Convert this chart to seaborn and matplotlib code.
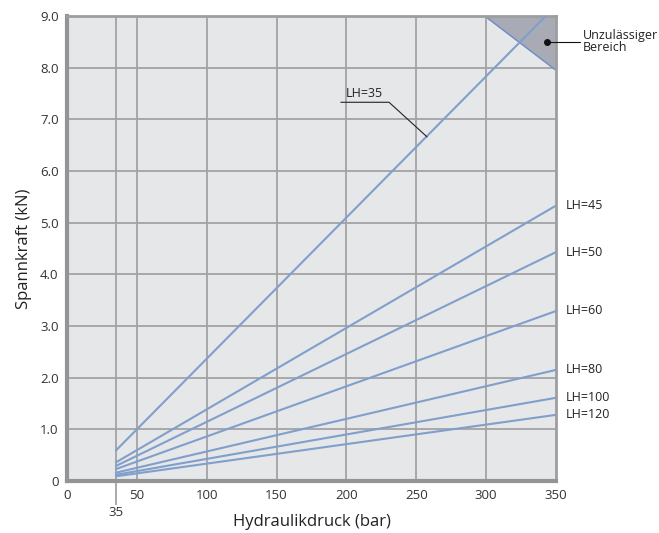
import matplotlib.pyplot as plt
import seaborn as sns
import pandas as pd

sns.set_style("white")
plt.rcParams["font.family"] = ["Open Sans", "DejaVu Sans"]

# Start/end points of each curve (Hydraulikdruck in bar, Spannkraft in kN)
lh_labels = ["LH=35", "LH=45", "LH=50", "LH=60", "LH=80", "LH=100", "LH=120"]
pressure_start = [35, 35, 35, 35, 35, 35, 35]
pressure_end = [350, 350, 350, 350, 350, 350, 350]
force_start = [0.59, 0.36, 0.29, 0.23, 0.16, 0.12, 0.09]
force_end = [9.2, 5.33, 4.43, 3.29, 2.15, 1.61, 1.28]

# forbidden region triangle
zone_x = [299, 350, 350]
zone_y = [9.0, 9.0, 7.95]

x_ticks = [0, 50, 100, 150, 200, 250, 300, 350]
y_ticks = [0, 1, 2, 3, 4, 5, 6, 7, 8, 9]
y_tick_labels = ["0", "1.0", "2.0", "3.0", "4.0", "5.0", "6.0", "7.0", "8.0", "9.0"]

rows = []
for lab, x0, x1, y0, y1 in zip(lh_labels, pressure_start, pressure_end, force_start, force_end):
    rows.append({"LH": lab, "p": x0, "F": y0})
    rows.append({"LH": lab, "p": x1, "F": y1})
df = pd.DataFrame(rows)

line_col = "#809fcb"
grid_col = "#a3a3a5"

fig = plt.figure(figsize=(6.59, 5.33), dpi=100)
ax = fig.add_axes([0.1017, 0.0976, 0.742, 0.8724])
ax.set_facecolor("#e6e7e9")

ax.fill(zone_x, zone_y, color="#a8abb6", zorder=1)
ax.plot([zone_x[0], zone_x[2]], [zone_y[0], zone_y[2]], color="#6f8fc4", lw=1, zorder=2)

sns.lineplot(data=df, x="p", y="F", units="LH", estimator=None, color=line_col,
             lw=1.5, ax=ax, zorder=3, legend=False)

ax.set_xlim(0, 350)
ax.set_ylim(0, 9)
ax.set_xticks(x_ticks)
ax.set_xticks([35], minor=True)
ax.set_xticklabels(x_ticks, minor=False)
ax.set_xticklabels(["35"], minor=True)
ax.set_yticks(y_ticks)
ax.set_yticklabels(y_tick_labels)
ax.tick_params(axis="both", which="major", length=0, labelsize=9.5, colors="#333333", pad=6)
ax.tick_params(axis="x", which="minor", bottom=True, length=17, width=1.3, color=grid_col,
               labelsize=9.5, labelcolor="#333333", pad=1)

for v in [35, 50, 100, 150, 200, 250, 300]:
    ax.axvline(v, color=grid_col, lw=1.3, zorder=0.5)
for v in range(1, 9):
    ax.axhline(v, color=grid_col, lw=1.3, zorder=0.5)

for side in ["top", "right"]:
    ax.spines[side].set_color("#9d9ea0")
    ax.spines[side].set_linewidth(2)
for side in ["left", "bottom"]:
    ax.spines[side].set_color("#939496")
    ax.spines[side].set_linewidth(3)

ax.set_xlabel("Hydraulikdruck (bar)", fontsize=12, color="#222222")
ax.xaxis.set_label_coords(0.5, -0.07)
ax.set_ylabel("Spannkraft (kN)", fontsize=12, color="#222222", labelpad=6)

# right-hand labels
for lab, y1 in zip(lh_labels[1:], force_end[1:]):
    ax.text(357, y1, lab, fontsize=9, va="center", ha="left", color="#222222", clip_on=False)

# LH=35 callout
ax.text(213, 7.38, "LH=35", fontsize=9, ha="center", va="bottom", color="#222222")
ax.plot([196, 230.5, 257.7], [7.33, 7.33, 6.66], color="#222222", lw=0.8, zorder=4)

# forbidden region callout
ax.plot([343.6], [8.5], "o", color="#111111", ms=4, zorder=5)
ax.plot([343.6, 367], [8.5, 8.5], color="#111111", lw=0.8, clip_on=False, zorder=5)
ax.text(369, 8.5, "Unzulässiger\nBereich", fontsize=9, ha="left", va="center",
        color="#222222", linespacing=0.9, clip_on=False)

fig.savefig("out.png", dpi=100)
